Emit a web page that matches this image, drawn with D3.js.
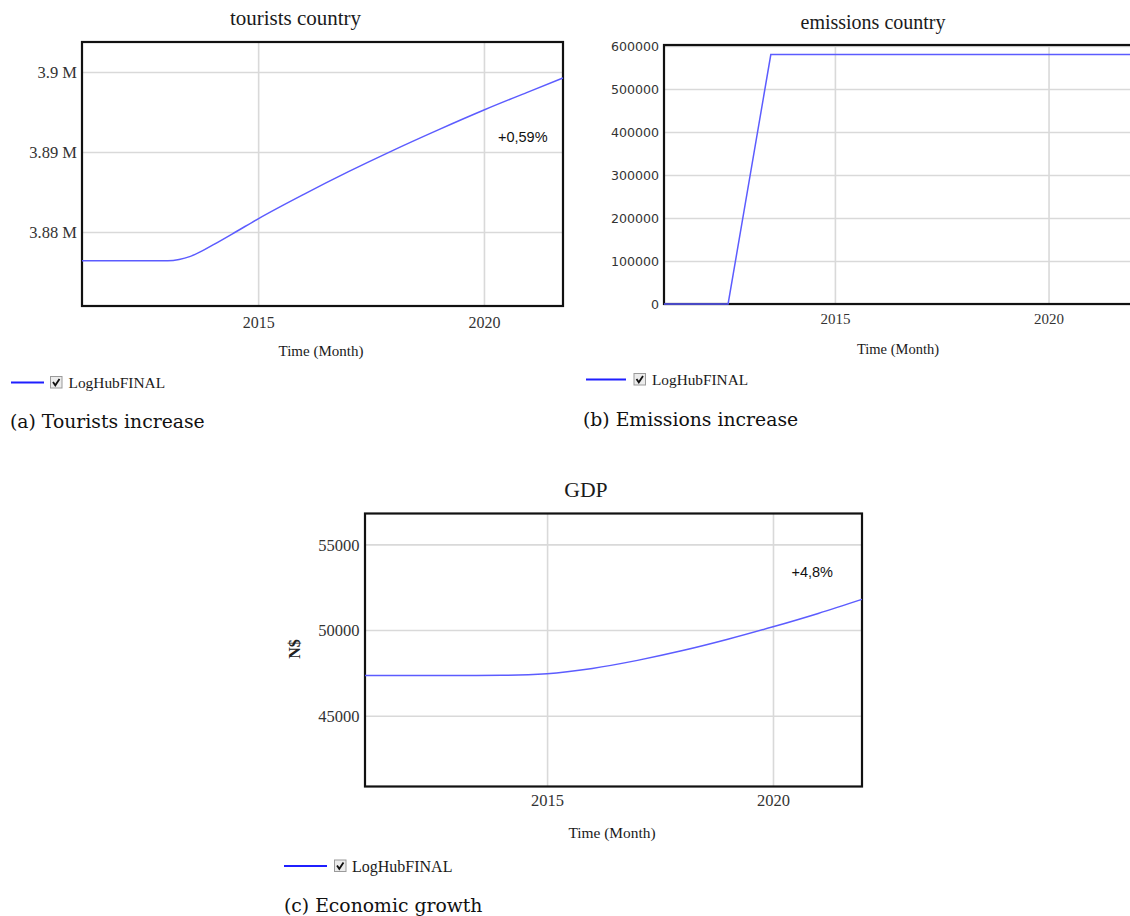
<!DOCTYPE html>
<html>
<head>
<meta charset="utf-8">
<script src="https://cdn.jsdelivr.net/npm/d3@7/dist/d3.min.js"></script>
<style>
  html, body { margin: 0; padding: 0; background: #fff; }
  svg { display: block; }
</style>
</head>
<body>
<svg id="fig" width="1130" height="916"></svg>
<script>
// ---- data ----
const seriesName = "LogHubFINAL";

const touristYears  = [2011.1, 2012.0, 2013.0, 2013.25, 2013.5, 2013.75, 2014.0, 2014.5, 2015.0, 2016.0, 2017.0, 2018.0, 2019.0, 2020.0, 2021.0, 2021.75];
const touristValues = [3876400, 3876400, 3876400, 3876550, 3876950, 3877600, 3878380, 3880000, 3881650, 3884680, 3887540, 3890240, 3892800, 3895250, 3897550, 3899250];
const touristTicks  = [3880000, 3890000, 3900000];
const touristTickLabels = ["3.88 M", "3.89 M", "3.9 M"];

const emissionYears  = [2011.0, 2012.5, 2013.5, 2022.0];
const emissionValues = [0, 0, 580000, 580000];
const emissionTicks  = [0, 100000, 200000, 300000, 400000, 500000, 600000];
const emissionTickLabels = ["0", "100000", "200000", "300000", "400000", "500000", "600000"];

const gdpYears  = [2010.97, 2012.0, 2013.0, 2014.0, 2015.0, 2016.0, 2017.0, 2018.0, 2019.0, 2020.0, 2021.0, 2021.97];
const gdpValues = [47350, 47350, 47350, 47358, 47450, 47760, 48230, 48800, 49460, 50190, 50970, 51790];
const gdpTicks  = [45000, 50000, 55000];
const gdpTickLabels = ["45000", "50000", "55000"];

const yearTicks = [2015, 2020];
const yearTickLabels = ["2015", "2020"];

// ---- shared styles ----
const SERIF = "'Liberation Serif', 'Times New Roman', serif";
const SANS = "'Liberation Sans', Arial, sans-serif";
const CAPTION = "'DejaVu Serif', serif";
const LINE_COLOR = "#5c5cff";

const svg = d3.select("#fig");

function panel(cfg) {
  const g = svg.append("g");
  const x = d3.scaleLinear().domain(cfg.xDomain).range([cfg.left, cfg.right]);
  const y = d3.scaleLinear().domain(cfg.yDomain).range([cfg.bottom, cfg.top]);

  // gridlines built from the axis generators
  const yGrid = d3.axisLeft(y).tickValues(cfg.yTicks)
    .tickSize(-(cfg.right - cfg.left)).tickFormat("");
  g.append("g").attr("transform", `translate(${cfg.left},0)`).call(yGrid)
    .call(s => s.select(".domain").remove())
    .selectAll("line").attr("stroke", "#d9d9d9").attr("stroke-width", 1.6);

  const xGrid = d3.axisBottom(x).tickValues(yearTicks)
    .tickSize(-(cfg.bottom - cfg.top)).tickFormat("");
  g.append("g").attr("transform", `translate(0,${cfg.bottom})`).call(xGrid)
    .call(s => s.select(".domain").remove())
    .selectAll("line").attr("stroke", "#d9d9d9").attr("stroke-width", 1.6);

  // y tick labels
  const yAxis = d3.axisLeft(y).tickValues(cfg.yTicks).tickSize(0).tickPadding(0)
    .tickFormat((d, i) => cfg.yLabels[i]);
  g.append("g").attr("transform", `translate(${cfg.yLabelX},0)`).call(yAxis)
    .call(s => s.select(".domain").remove())
    .selectAll("text")
    .attr("font-family", cfg.yFont).attr("font-size", cfg.yFontSize)
    .attr("fill", "#333").attr("dy", "0.35em");

  // x tick labels
  const xAxis = d3.axisBottom(x).tickValues(yearTicks).tickSize(0).tickPadding(0)
    .tickFormat((d, i) => yearTickLabels[i]);
  g.append("g").attr("transform", `translate(0,${cfg.xLabelY})`).call(xAxis)
    .call(s => s.select(".domain").remove())
    .selectAll("text")
    .attr("font-family", SERIF).attr("font-size", cfg.xFontSize)
    .attr("fill", "#333").attr("dy", "0.35em");

  // frame
  g.append("rect")
    .attr("x", cfg.left).attr("y", cfg.top)
    .attr("width", cfg.right - cfg.left).attr("height", cfg.bottom - cfg.top)
    .attr("fill", "none").attr("stroke", "#111").attr("stroke-width", 2.2);

  // series line
  const pts = cfg.xs.map((d, i) => [d, cfg.ys[i]]);
  const line = d3.line().x(d => x(d[0])).y(d => y(d[1]))
    .curve(cfg.curve || d3.curveMonotoneX);
  g.append("path").datum(pts)
    .attr("d", line).attr("fill", "none")
    .attr("stroke", cfg.lineColor || LINE_COLOR).attr("stroke-width", 1.5);

  // title
  g.append("text").text(cfg.title)
    .attr("x", cfg.titleX).attr("y", cfg.titleY).attr("dy", "0.35em")
    .attr("text-anchor", "middle")
    .attr("font-family", SERIF).attr("font-size", cfg.titleSize).attr("fill", "#1a1a1a");

  // x axis title
  g.append("text").text("Time (Month)")
    .attr("x", cfg.timeX).attr("y", cfg.timeY).attr("dy", "0.35em")
    .attr("text-anchor", "middle")
    .attr("font-family", SERIF).attr("font-size", cfg.timeSize).attr("fill", "#1a1a1a");

  // y axis title
  if (cfg.yTitle) {
    g.append("text").text(cfg.yTitle)
      .attr("transform", `translate(${cfg.yTitleX},${cfg.yTitleY}) rotate(-90)`)
      .attr("dy", "0.35em").attr("text-anchor", "middle")
      .attr("font-family", SERIF).attr("font-size", cfg.yTitleSize)
      .attr("font-weight", "bold").attr("fill", "#222");
  }

  // growth note
  if (cfg.note) {
    g.append("text").text(cfg.note)
      .attr("x", cfg.noteX).attr("y", cfg.noteY).attr("dy", "0.35em")
      .attr("font-family", SANS).attr("font-size", 14.5).attr("fill", "#111");
  }

  // legend: line swatch, checked box, series name
  const lg = g.append("g").attr("transform", `translate(${cfg.legX},${cfg.legY})`);
  lg.append("line").attr("x1", 0).attr("x2", cfg.legLine).attr("y1", 0).attr("y2", 0)
    .attr("stroke", "#1f1fff").attr("stroke-width", 2.2);
  const bx = cfg.legLine + cfg.boxGap;
  lg.append("rect").attr("x", bx).attr("y", -6).attr("width", 11.5).attr("height", 11.5)
    .attr("fill", "#ececec").attr("stroke", "#9a9a9a").attr("stroke-width", 1);
  lg.append("path")
    .attr("d", `M${bx + 2.5},${-0.5} L${bx + 4.8},${2.8} L${bx + 9},${-3.5}`)
    .attr("fill", "none").attr("stroke", "#111").attr("stroke-width", 1.8);
  lg.append("text").text(seriesName)
    .attr("x", bx + 11.5 + cfg.textGap).attr("y", 0).attr("dy", "0.35em")
    .attr("font-family", SERIF).attr("font-size", cfg.legSize).attr("fill", "#1a1a1a");

  // caption
  g.append("text").text(cfg.caption)
    .attr("x", cfg.capX).attr("y", cfg.capY)
    .attr("font-family", CAPTION).attr("font-size", 18.8).attr("fill", "#111");
}

// (a) tourists
panel({
  xs: touristYears, ys: touristValues,
  xDomain: [2011.1, 2021.75], yDomain: [3870750, 3903750],
  left: 82, right: 563, top: 42, bottom: 306,
  yTicks: touristTicks, yLabels: touristTickLabels,
  yLabelX: 77, yFont: SERIF, yFontSize: 16.5,
  xLabelY: 322, xFontSize: 16,
  title: "tourists country", titleX: 295.5, titleY: 17.5, titleSize: 21,
  timeX: 321, timeY: 351, timeSize: 15,
  note: "+0,59%", noteX: 498, noteY: 137,
  legX: 11, legY: 382.5, legLine: 33, boxGap: 6.5, textGap: 6.5, legSize: 15.4,
  caption: "(a) Tourists increase", capX: 10, capY: 428
});

// (b) emissions
panel({
  xs: emissionYears, ys: emissionValues, curve: d3.curveLinear,
  xDomain: [2011, 2022], yDomain: [0, 602300],
  left: 664, right: 1134, top: 45, bottom: 304,
  yTicks: emissionTicks, yLabels: emissionTickLabels,
  yLabelX: 659, yFont: "'DejaVu Sans', Verdana, sans-serif", yFontSize: 12.6,
  xLabelY: 318.5, xFontSize: 15,
  title: "emissions country", titleX: 873, titleY: 21.5, titleSize: 20,
  timeX: 898, timeY: 348.5, timeSize: 14.5,
  legX: 586, legY: 379.5, legLine: 40, boxGap: 8, textGap: 6.5, legSize: 15.3,
  caption: "(b) Emissions increase", capX: 583, capY: 426
});

// (c) GDP
panel({
  xs: gdpYears, ys: gdpValues,
  xDomain: [2010.97, 2021.97], yDomain: [40870, 56800],
  left: 365, right: 862, top: 513.5, bottom: 786.5,
  yTicks: gdpTicks, yLabels: gdpTickLabels,
  yLabelX: 359.5, yFont: SERIF, yFontSize: 16.5,
  xLabelY: 800, xFontSize: 16.5,
  title: "GDP", titleX: 586, titleY: 489, titleSize: 21.7,
  timeX: 612, timeY: 833, timeSize: 15.4,
  yTitle: "N$", yTitleX: 294.5, yTitleY: 649, yTitleSize: 16,
  note: "+4,8%", noteX: 791.5, noteY: 572,
  legX: 284, legY: 866, legLine: 43, boxGap: 7.5, textGap: 6, legSize: 16,
  caption: "(c) Economic growth", capX: 284, capY: 912
});
</script>
</body>
</html>
